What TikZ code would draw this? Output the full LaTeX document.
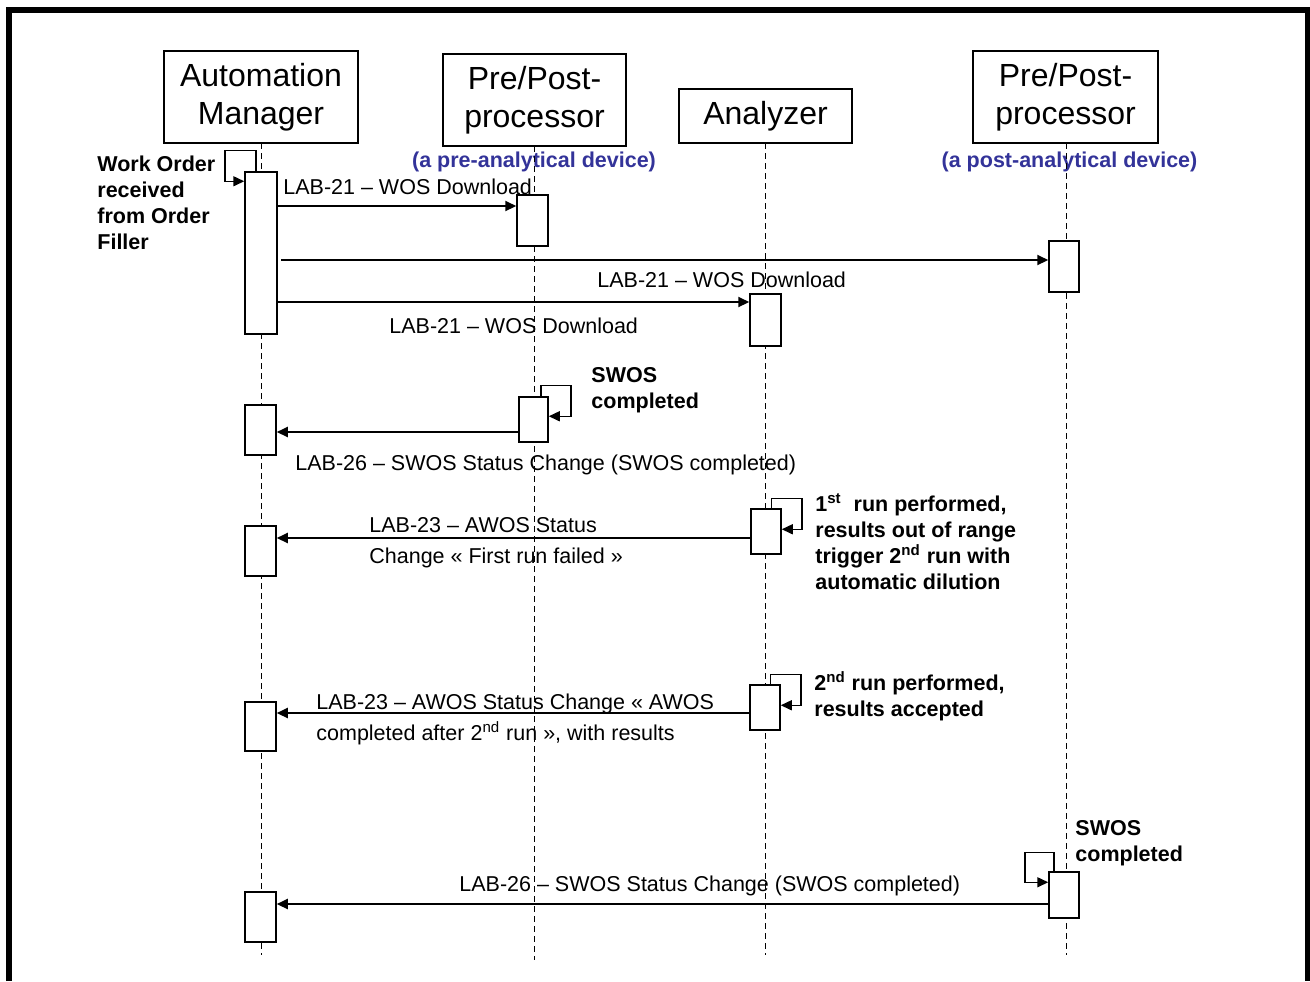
\documentclass[tikz,border=0pt]{standalone}
\usepackage{fontspec}
\setmainfont{Liberation Sans}
\usetikzlibrary{arrows.meta,fit}
\definecolor{devblue}{RGB}{51,51,153}
\begin{document}
\begin{tikzpicture}[x=0.5pt,y=-0.5pt,
  head/.style={draw,line width=0.75pt,inner sep=0pt,font=\fontsize{16}{19}\selectfont,align=center},
  bar/.style={draw,fill=white,line width=0.75pt,inner sep=0pt},
  life/.style={line width=0.5pt,dash pattern=on 3pt off 2pt},
  msg/.style={line width=1pt,-{Triangle[length=5.5pt,width=5pt]}},
  selfmsg/.style={line width=0.75pt,-{Triangle[length=5.5pt,width=5pt]}},
  lbl/.style={inner sep=0pt,font=\fontsize{10.75}{15.5}\selectfont,align=left,anchor=base west},
  note/.style={inner sep=0pt,font=\fontsize{10.75}{12.85}\selectfont\bfseries,align=left,anchor=base west},
  dev/.style={inner sep=0pt,font=\fontsize{10.75}{13}\selectfont\bfseries,text=devblue,anchor=base}]
\useasboundingbox (0,0) rectangle (1310,981);
% frame
\draw[line width=3pt] (9,981) -- (9,10) -- (1308,10) -- (1308,981);
% headers
\node[head,minimum width=97pt,minimum height=46pt] (am) at (261,97) {Automation\\Manager};
\node[head,minimum width=91.5pt,minimum height=46pt] (pre) at (534.5,100) {Pre/Post-\\processor};
\node[head,minimum width=86.5pt,minimum height=27pt] (ana) at (765.5,116) {Analyzer};
\node[head,minimum width=92.5pt,minimum height=46pt] (post) at (1065.5,97) {Pre/Post-\\processor};
\node[dev] (devpre) at (534,167) {(a pre-analytical device)};
\node[dev] (devpost) at (1069.5,167) {(a post-analytical device)};
% lifeline ends
\coordinate (e1) at (261,955);
\coordinate (e2) at (534,960);
\coordinate (e3) at (765,955);
\coordinate (e4) at (1066,955);
\draw[life] (261,143) -- (e1);
\draw[life] (534,146) -- (e2);
\draw[life] (765,143) -- (e3);
\draw[life] (1066,143) -- (e4);
% activation bars
\node[bar,fit={(245,172) (277,334)}] (A1) {};
\node[bar,fit={(245,405) (276,455)}] (A2) {};
\node[bar,fit={(245,526) (276,576)}] (A3) {};
\node[bar,fit={(245,702) (276,751)}] (A4) {};
\node[bar,fit={(245,892) (276,942)}] (A5) {};
\node[bar,fit={(517,195) (548,246)}] (P1) {};
\node[bar,fit={(519,397) (548,442)}] (P2) {};
\node[bar,fit={(750,294) (781,346)}] (Z1) {};
\node[bar,fit={(751,509) (781,554)}] (Z2) {};
\node[bar,fit={(750,685) (780,730)}] (Z3) {};
\node[bar,fit={(1049,241) (1079,292)}] (Q1) {};
\node[bar,fit={(1049,872) (1079,918)}] (Q2) {};
% message levels
\coordinate (m1) at (0,206);
\coordinate (m2) at (281,260);
\coordinate (m3) at (0,302);
\coordinate (m4) at (0,432);
\coordinate (m5) at (0,538);
\coordinate (m6) at (0,713);
\coordinate (m7) at (0,904);
% messages
\draw[msg] (A1.east |- m1) -- (P1.west |- m1);
\draw[msg] (m2) -- (Q1.west |- m2);
\draw[msg] (A1.east |- m3) -- (Z1.west |- m3);
\draw[msg] (P2.west |- m4) -- (A2.east |- m4);
\draw[msg] (Z2.west |- m5) -- (A3.east |- m5);
\draw[msg] (Z3.west |- m6) -- (A4.east |- m6);
\draw[msg] (Q2.west |- m7) -- (A5.east |- m7);
% self messages
\draw[selfmsg] ([xshift=-2.5pt]A1.north) |- ++(-31,-21) |- ([yshift=-5pt]A1.north west);
\draw[selfmsg] ([xshift=3.75pt]P2.north) |- ++(30,-11) |- ([yshift=-10pt]P2.north east);
\draw[selfmsg] ([xshift=2.75pt]Z2.north) |- ++(30.5,-10) |- ([yshift=-10.5pt]Z2.north east);
\draw[selfmsg] ([xshift=2.75pt]Z3.north) |- ++(30.5,-10) |- ([yshift=-10.5pt]Z3.north east);
\draw[selfmsg] ([xshift=-5pt]Q2.north) |- ++(-29,-19) |- ([yshift=-5.5pt]Q2.north west);
% message labels (multi-line ones placed at the baseline of their last line)
\node[lbl] (l1) at (283,194) {LAB-21 – WOS Download};
\node[lbl] (l2) at (597,287) {LAB-21 – WOS Download};
\node[lbl] (l3) at (389,333) {LAB-21 – WOS Download};
\node[lbl] (l4) at (295,470) {LAB-26 – SWOS Status Change (SWOS completed)};
\node[lbl] (l5) at (369,563) {LAB-23 – AWOS Status\\Change « First run failed »};
\node[lbl] (l6) at (316,740) {LAB-23 – AWOS Status Change « AWOS\\completed after 2\textsuperscript{nd} run », with results};
\node[lbl] (l7) at (459,891) {LAB-26 – SWOS Status Change (SWOS completed)};
% notes
\node[note] (n1) at (97,249) {Work Order\\received\\from Order\\Filler};
\node[note] (n2) at (591,408) {SWOS\\completed};
\node[note] (n3) at (815,589) {1\textsuperscript{st}\ \ run performed,\\results out of range\\trigger 2\textsuperscript{nd} run with\\automatic dilution};
\node[note] (n4) at (814,716) {2\textsuperscript{nd} run performed,\\results accepted};
\node[note] (n5) at (1075,861) {SWOS\\completed};
\end{tikzpicture}
\end{document}
